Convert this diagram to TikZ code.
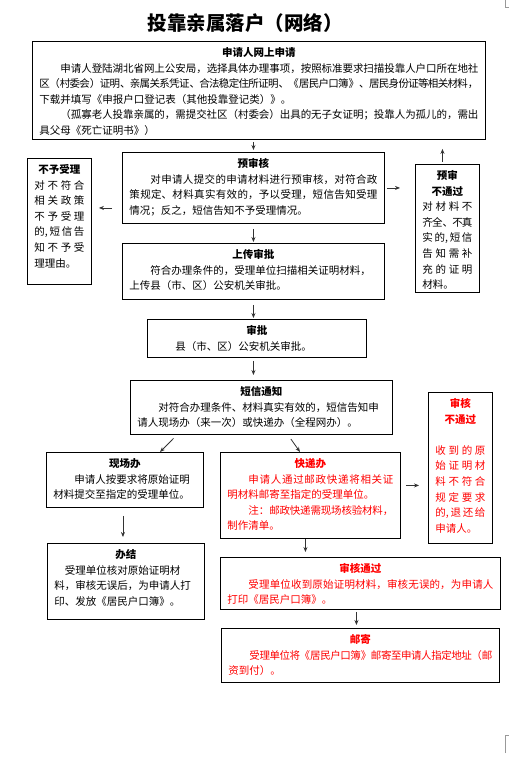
\documentclass[tikz,border=0pt]{standalone}
\usepackage{fontspec}
\setmainfont{Noto Sans CJK SC}
\usetikzlibrary{arrows.meta,calc}
\XeTeXlinebreaklocale "zh"
\XeTeXlinebreakskip=0pt plus 3pt minus 1pt
\definecolor{redtxt}{RGB}{255,0,0}
\newcommand{\bxt}[3]{\parbox[t][#1pt][t]{#2pt}{\fontsize{10.5}{15.6}\selectfont\setlength{\parindent}{2em}#3}}
\newcommand{\ttl}[1]{{\centering\bfseries\rule{0pt}{15pt}#1\par}}
\tikzset{
  bx/.style={draw, line width=0.9pt, inner xsep=7pt, inner ysep=0pt, anchor=north west},
  arr/.style={-{Stealth[length=5pt,width=4pt]}, line width=0.8pt, draw=black!80},
  cornermark/.style={draw=black!40, line width=0.6pt},
}
\begin{document}
\begin{tikzpicture}[x=1pt,y=1pt]
\useasboundingbox (0,0) rectangle (509,-762);
\node[font=\bfseries\fontsize{19.5}{22}\selectfont] (title) at (245,-23) {投靠亲属落户（网络）};

\node[bx] (b1) at (32,-41) {\bxt{98}{439}{\ttl{申请人网上申请}申请人登陆湖北省网上公安局，选择具体办理事项，按照标准要求扫描投靠人户口所在地社\linebreak 区（村委会）证明、亲属关系凭证、合法稳定住所证明、《居民户口簿》、居民身份证等相关材料，\linebreak 下载并填写《申报户口登记表（其他投靠登记类）》。\par （孤寡老人投靠亲属的，需提交社区（村委会）出具的无子女证明；投靠人为孤儿的，需出\linebreak 具父母《死亡证明书》）}};

\node[bx] (ysh) at (122,-152) {\bxt{71}{248}{\ttl{预审核}对申请人提交的申请材料进行预审核，对符合政\linebreak 策规定、材料真实有效的，予以受理，短信告知受理\linebreak 情况；反之，短信告知不予受理情况。}};

\node[bx] (byl) at (27,-158) {\bxt{126}{50}{\ttl{不予受理}\noindent 对不符合\linebreak 相关政策\linebreak 不予受理\linebreak 的,短信告\linebreak 知不予受\linebreak 理理由。}};

\node[bx] (ybt) at (415,-164) {\bxt{128}{50}{\ttl{预审\\不通过}\noindent 对材料不\linebreak 齐全、不真\linebreak 实的,短信\linebreak 告知需补\linebreak 充的证明\linebreak 材料。}};

\node[bx] (scsp) at (122,-243) {\bxt{56}{248}{\ttl{上传审批}符合办理条件的，受理单位扫描相关证明材料，\newline 上传县（市、区）公安机关审批。}};

\node[bx] (sp) at (147,-319) {\bxt{38}{205}{\ttl{审批}县（市、区）公安机关审批。}};

\node[bx] (dx) at (130,-380) {\bxt{54}{248}{\ttl{短信通知}对符合办理条件、材料真实有效的，短信告知申\newline 请人现场办（来一次）或快递办（全程网办）。}};

\node[bx] (xc) at (46,-452) {\bxt{55}{143}{\ttl{现场办}申请人按要求将原始证明\newline 材料提交至指定的受理单位。}};

\node[bx, text=redtxt] (kd) at (220,-452) {\bxt{86}{166}{\ttl{快递办}申请人通过邮政快递将相关证\linebreak 明材料邮寄至指定的受理单位。\par 注：邮政快递需现场核验材料，\newline 制作清单。}};

\node[bx, text=redtxt] (shbt) at (428,-392) {\bxt{151}{50}{\ttl{审核\\不通过}\vspace{15.6pt}\noindent 收到的原\linebreak 始证明材\linebreak 料不符合\linebreak 规定要求\linebreak 的,退还给\linebreak 申请人。}};

\node[bx] (bj) at (47,-543) {\bxt{76}{143}{\ttl{办结}\setlength{\parindent}{1em}受理单位核对原始证明材\newline 料，审核无误后，为申请人打\newline 印、发放《居民户口簿》。}};

\node[bx, text=redtxt] (shtg) at (220,-557) {\bxt{52}{266}{\ttl{审核通过}受理单位收到原始证明材料，审核无误的，为申请人\linebreak 打印《居民户口簿》。}};

\node[bx, text=redtxt] (yj) at (221,-628) {\bxt{54}{264}{\ttl{邮寄}受理单位将《居民户口簿》邮寄至申请人指定地址（邮\linebreak 资到付）。}};

% arrows
\draw[arr, shorten <=2pt, shorten >=2pt] (b1.south -| ysh.north) -- (ysh.north);
\draw[arr, shorten <=5pt, shorten >=1pt] (ysh.south) -- (scsp.north);
\draw[arr, shorten <=5pt, shorten >=1pt] (scsp.south) -- (scsp.south |- sp.north);
\draw[arr, shorten <=3pt, shorten >=5pt] (scsp.south |- sp.south) -- (scsp.south |- dx.north);
\coordinate (c5) at ([yshift=-20pt]ysh.west);
\draw[arr, shorten <=10pt, shorten >=7pt] (c5) -- (c5 -| byl.east);
\draw[arr, shorten <=2pt, shorten >=15pt] (ysh.east) -- (ysh.east -| ybt.west);
\coordinate (c7) at ([xshift=-5pt]ybt.north);
\draw[arr, shorten <=2pt, shorten >=9pt] (c7) -- (c7 |- b1.south);
\draw[arr, shorten <=5pt] ([xshift=47pt]dx.south west) -- ([xshift=114pt]xc.north west);
\draw[arr, shorten <=5pt] ([xshift=158pt]dx.south west) -- ([xshift=80pt]kd.north west);
\coordinate (c10) at ([xshift=-2pt]xc.south);
\draw[arr, shorten <=8pt, shorten >=6pt] (c10) -- (c10 |- bj.north);
\coordinate (c11) at ([yshift=10pt]kd.east);
\draw[arr, shorten <=5pt, shorten >=9pt] (c11) -- (c11 -| shbt.west);
\coordinate (c12) at ([xshift=-5pt]kd.south);
\draw[arr, shorten <=0.5pt, shorten >=5pt] (c12) -- (c12 |- shtg.north);
\coordinate (c13) at ([xshift=-4pt]shtg.south);
\draw[arr, shorten <=2pt, shorten >=3pt] (c13) -- (c13 |- yj.north);

% page corner marks
\draw[cornermark] (505,0) -- (505,-7) -- (509,-7);
\draw[cornermark] (505,-753) -- (505,-735) -- (509,-735);
\end{tikzpicture}
\end{document}
